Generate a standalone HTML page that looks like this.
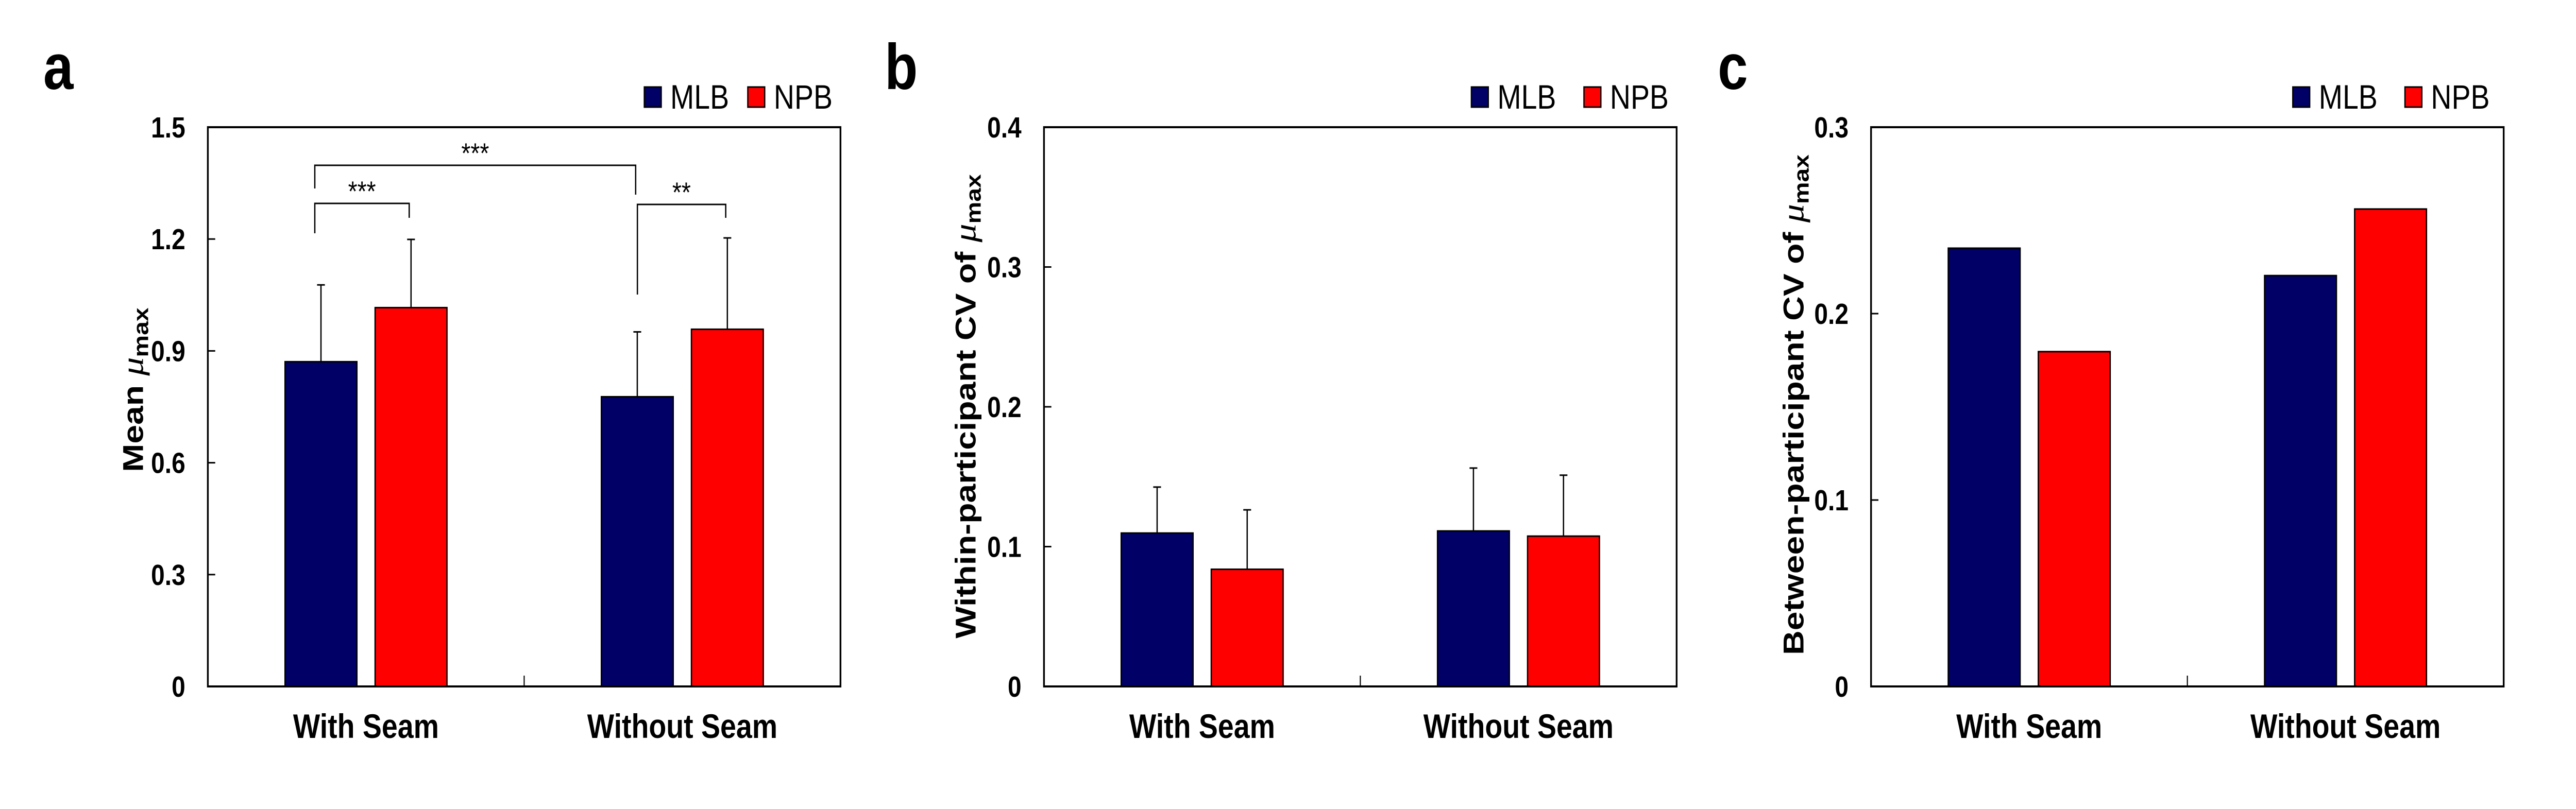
<!DOCTYPE html>
<html><head><meta charset="utf-8"><style>
html,body{margin:0;padding:0;background:#fff;overflow:hidden;width:100%;height:100%;}
svg{display:block;font-family:"Liberation Sans",Arial,sans-serif;width:100vw;height:100vh;}
</style></head><body>
<svg id="fig" viewBox="0 0 5949 1571" preserveAspectRatio="none" xmlns="http://www.w3.org/2000/svg"></svg>
<script>
// ---- data ----
const categories = ["With Seam", "Without Seam"];
const seriesNames = ["MLB", "NPB"];
// panel a: mean mu_max
const aMLB = [0.871, 0.777];
const aNPB = [1.016, 0.958];
const aMLBerr = [1.077, 0.951];
const aNPBerr = [1.199, 1.203];
const aTicks = [0, 0.3, 0.6, 0.9, 1.2, 1.5];
const aTickLabels = ["0", "0.3", "0.6", "0.9", "1.2", "1.5"];
// panel b: within-participant CV
const bMLB = [0.1097, 0.1112];
const bNPB = [0.0838, 0.1075];
const bMLBerr = [0.1426, 0.1562];
const bNPBerr = [0.1263, 0.1511];
const bTicks = [0, 0.1, 0.2, 0.3, 0.4];
const bTickLabels = ["0", "0.1", "0.2", "0.3", "0.4"];
// panel c: between-participant CV
const cMLB = [0.2351, 0.2204];
const cNPB = [0.1796, 0.2561];
const cTicks = [0, 0.1, 0.2, 0.3];
const cTickLabels = ["0", "0.1", "0.2", "0.3"];

const NS = "http://www.w3.org/2000/svg";
const svg = document.getElementById("fig");
function mk(tag, attrs, parent, text) {
  const e = document.createElementNS(NS, tag);
  for (const k in attrs) e.setAttribute(k, attrs[k]);
  if (text !== undefined) e.textContent = text;
  (parent || svg).appendChild(e);
  return e;
}
const COLORS = ["#000066", "#ff0000"];
const TOP = 247, BOT = 1333, W = 1461;

function panel(cfg) {
  const g = mk("g", {});
  
  
  const L = cfg.left;
  const ymax = cfg.ticks[cfg.ticks.length - 1];
  const y = v => BOT - (v / ymax) * (BOT - TOP);
  const xc = i => L + W * (0.25 + 0.5 * i);

  const lt = mk("text", {x: cfg.letterX, y: 173, "font-size": 125, "font-weight": "bold"}, g, cfg.id);
  
  

  const series = [cfg.mlb, cfg.npb];
  series.forEach((vals, s) => {
    vals.forEach((v, i) => {
      const x0 = s === 0 ? xc(i) - 187 : xc(i) + 21;
      const r = mk("rect", {x: x0, y: y(v), width: 166, height: BOT - y(v), fill: COLORS[s], stroke: "#000", "stroke-width": 3}, g);
      
      
    });
  });
  if (cfg.mlbErr) {
    [cfg.mlbErr, cfg.npbErr].forEach((errs, s) => {
      errs.forEach((e, i) => {
        const cx = s === 0 ? xc(i) - 104 : xc(i) + 104;
        const vals = series[s];
        const eg = mk("g", {stroke: "#000", "stroke-width": 3}, g);
        
        
        mk("line", {x1: cx, x2: cx, y1: y(vals[i]), y2: y(e)}, eg);
        mk("line", {x1: cx - 9, x2: cx + 9, y1: y(e), y2: y(e)}, eg);
      });
    });
  }
  const fr = mk("rect", {x: L, y: TOP, width: W, height: BOT - TOP, fill: "none", stroke: "#000", "stroke-width": 4}, g);
  
  
  mk("line", {x1: L + W / 2, x2: L + W / 2, y1: BOT - 21, y2: BOT, stroke: "#000", "stroke-width": 2.5}, g);
  cfg.ticks.forEach((t, i) => {
    if (i > 0 && i < cfg.ticks.length - 1) mk("line", {x1: L, x2: L + 17, y1: y(t), y2: y(t), stroke: "#000", "stroke-width": 3}, g);
    const tl = mk("text", {x: L - 52, y: y(t) + 20, "font-size": 57, "font-weight": "bold", "text-anchor": "end"}, g, cfg.tickLabels[i]);
    
    
  });
  categories.forEach((c, i) => {
    const xl = mk("text", {x: xc(i), y: 1433, "font-size": 66, "font-weight": "bold", "text-anchor": "middle"}, g, c);
    
    
  });
  const yt = mk("text", {transform: `translate(${cfg.titleX},${cfg.titleY}) rotate(-90)`, "font-size": 66, "font-weight": "bold", "text-anchor": "middle"}, g);
  
  
  mk("tspan", {}, yt, cfg.title + " ");
  mk("tspan", {"font-style": "italic", "font-weight": "normal", "font-family": "Liberation Serif, serif", "font-size": 72}, yt, "μ");
  mk("tspan", {"font-size": 48, dy: 12}, yt, "max");
  const lg = mk("g", {}, g);
  
  
  seriesNames.forEach((n, s) => {
    const sx = cfg.legend[s];
    const sw = mk("rect", {x: sx, y: 169, width: 39, height: 39, fill: COLORS[s], stroke: "#000", "stroke-width": 3}, lg);
    
    
    const tx = mk("text", {x: sx + 60, y: 211, "font-size": 66}, lg, n);
    
    
  });
  return {g, y, xc};
}

const pa = panel({id: "a", left: 480, letterX: 100, mlb: aMLB, npb: aNPB, mlbErr: aMLBerr, npbErr: aNPBerr,
  ticks: aTicks, tickLabels: aTickLabels, title: "Mean", titleX: 330, titleY: 757, legend: [1488, 1727]});
panel({id: "b", left: 2411, letterX: 2043, mlb: bMLB, npb: bNPB, mlbErr: bMLBerr, npbErr: bNPBerr,
  ticks: bTicks, tickLabels: bTickLabels, title: "Within-participant CV of", titleX: 2253, titleY: 789, legend: [3398, 3658]});
panel({id: "c", left: 4321, letterX: 3967, mlb: cMLB, npb: cNPB,
  ticks: cTicks, tickLabels: cTickLabels, title: "Between-participant CV of", titleX: 4165, titleY: 786, legend: [5295, 5554]});

function bracket(x1, x2, yl, y1end, y2end, label, name) {
  const g = mk("g", {}, pa.g);
  
  
  mk("polyline", {points: `${x1},${y1end} ${x1},${yl} ${x2},${yl} ${x2},${y2end}`, fill: "none", stroke: "#000", "stroke-width": 3}, g);
  mk("text", {x: (x1 + x2) / 2, y: yl - 5, "font-size": 55, "text-anchor": "middle"}, g, label);
}
bracket(727, 1468, 321, 366, 378, "***", "significance-bracket-seam");
bracket(727, 945, 395, 453, 423, "***", "significance-bracket-with-seam");
bracket(1472, 1676, 397, 572, 423, "**", "significance-bracket-without-seam");
</script>
</body></html>
